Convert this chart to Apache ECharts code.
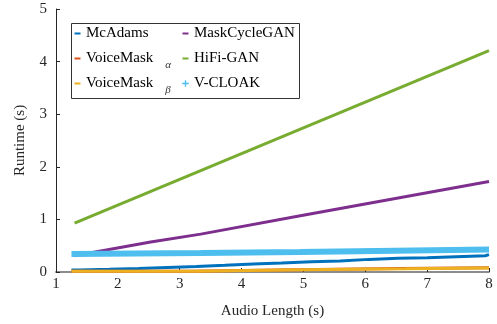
<!DOCTYPE html>
<html>
<head>
<meta charset="utf-8">
<script src="https://cdn.jsdelivr.net/npm/echarts@6/dist/echarts.min.js"></script>
<style>
html,body{margin:0;padding:0;background:#fff;}
#c{width:497px;height:324px;}
</style>
</head>
<body>
<div id="c"></div>
<script>
// ---- data (x = audio length in s, y = runtime in s) ----
const seriesNames = ['McAdams', 'VoiceMask α', 'VoiceMask β', 'MaskCycleGAN', 'HiFi-GAN', 'V-CLOAK'];
const xTicks = [1, 2, 3, 4, 5, 6, 7, 8];
const yTicks = [0, 1, 2, 3, 4, 5];

const mcAdams = [[1.25,0.04],[1.39,0.05],[1.86,0.065],[2.33,0.085],[2.8,0.105],[3.27,0.126],[3.73,0.15],[4.19,0.17],[4.65,0.195],[5.13,0.21],[5.59,0.24],[6.06,0.26],[6.53,0.27],[7.0,0.29],[7.47,0.31],[7.94,0.33],[8.0,0.33]];
const voiceMaskAlpha = [[1.25,0.015],[3.15,0.045],[4.85,0.065],[6.55,0.08],[8.0,0.08]];
const voiceMaskBeta = [[1.25,0.015],[3.25,0.045],[4.97,0.06],[6.65,0.075],[8.0,0.075]];
const maskCycleGAN = [[1.3,0.31],[2.53,0.57],[3.34,0.72],[4.95,1.07],[8.0,1.72]];
const hifiGAN = [[1.3,0.93],[8.0,4.21]];
const vCloak = [[1.25,0.34],[3.34,0.36],[4.95,0.38],[8.0,0.43]];

const colors = ['#0072BD', '#D95319', '#EDB120', '#7E2F8E', '#77AC30', '#4DBEEE'];

const chart = echarts.init(document.getElementById('c'), null, {renderer: 'canvas'});
const FONT = 'Liberation Serif';
const txt = '#262626';

const legendRich = {
  n: {fontFamily: FONT, fontSize: 15, color: '#000'},
  s: {fontFamily: FONT, fontSize: 11, fontStyle: 'italic', color: '#333', padding: [14, 0, 0, 12]},
  e: {fontFamily: FONT, fontSize: 11, color: '#000', padding: [14, 0, 0, 0]}
};
function legendFmt(name) {
  const parts = name.split(' ');
  if (parts.length === 2 && (parts[1] === 'α' || parts[1] === 'β')) {
    return '{n|' + parts[0] + '}{s|' + parts[1] + '}';
  }
  return '{n|' + name + '}{e| }';
}
const dashIcon = 'path://M0,0M0.5,2.5H6.5V4.5H0.5ZM7,7';
const starIcon = 'path://M0,0M2.8,0.2H4.2V2.8H6.8V4.2H4.2V6.8H2.8V4.2H0.2V2.8H2.8ZM7,7';

function mkSeries(name, data, color, width, step) {
  return {
    name: name, type: 'line', data: data, step: step || false,
    showSymbol: false, symbol: 'none', clip: true,
    lineStyle: {color: color, width: width},
    itemStyle: {color: color},
    emphasis: {disabled: true}
  };
}

const legendBase = {
  orient: 'vertical', top: 26, z: 60, padding: 0,
  itemWidth: 7, itemHeight: 7, itemGap: 5,
  icon: dashIcon,
  formatter: legendFmt,
  textStyle: {rich: legendRich},
  selectedMode: false
};

chart.setOption({
  animation: false,
  textStyle: {fontFamily: FONT},
  grid: {left: 56, right: 8, top: 9, bottom: 49, containLabel: false},
  graphic: [{
    type: 'rect', left: 71, top: 23, z: 50,
    shape: {width: 228, height: 75},
    style: {fill: '#fff', stroke: '#333', lineWidth: 1}
  }],
  legend: [
    Object.assign({}, legendBase, {
      left: 74,
      data: ['McAdams', 'VoiceMask α', 'VoiceMask β']
    }),
    Object.assign({}, legendBase, {
      left: 182,
      data: ['MaskCycleGAN', 'HiFi-GAN', {name: 'V-CLOAK', icon: starIcon}]
    })
  ],
  xAxis: {
    type: 'value', min: xTicks[0], max: xTicks[xTicks.length - 1], interval: 1,
    name: 'Audio Length (s)', nameLocation: 'middle', nameGap: 32,
    nameTextStyle: {fontFamily: FONT, fontSize: 15, color: txt},
    axisLine: {show: true, lineStyle: {color: '#8c8c8c', width: 2}},
    axisTick: {show: true, inside: true, length: 4, lineStyle: {color: txt, width: 1}},
    axisLabel: {fontFamily: FONT, fontSize: 15, color: txt, margin: 5},
    splitLine: {show: false}
  },
  yAxis: {
    type: 'value', min: yTicks[0], max: yTicks[yTicks.length - 1], interval: 1,
    name: 'Runtime (s)', nameLocation: 'middle', nameGap: 28,
    nameTextStyle: {fontFamily: FONT, fontSize: 15, color: txt},
    axisLine: {show: true, lineStyle: {color: txt, width: 1}},
    axisTick: {show: true, inside: true, length: 4, lineStyle: {color: txt, width: 1}},
    axisLabel: {fontFamily: FONT, fontSize: 15, color: txt, margin: 9},
    splitLine: {show: false}
  },
  series: [
    mkSeries(seriesNames[0], mcAdams, colors[0], 3, 'end'),
    mkSeries(seriesNames[1], voiceMaskAlpha, colors[1], 3, 'end'),
    mkSeries(seriesNames[2], voiceMaskBeta, colors[2], 3, 'end'),
    mkSeries(seriesNames[3], maskCycleGAN, colors[3], 3),
    mkSeries(seriesNames[4], hifiGAN, colors[4], 3),
    mkSeries(seriesNames[5], vCloak, colors[5], 6)
  ]
});
</script>
</body>
</html>
